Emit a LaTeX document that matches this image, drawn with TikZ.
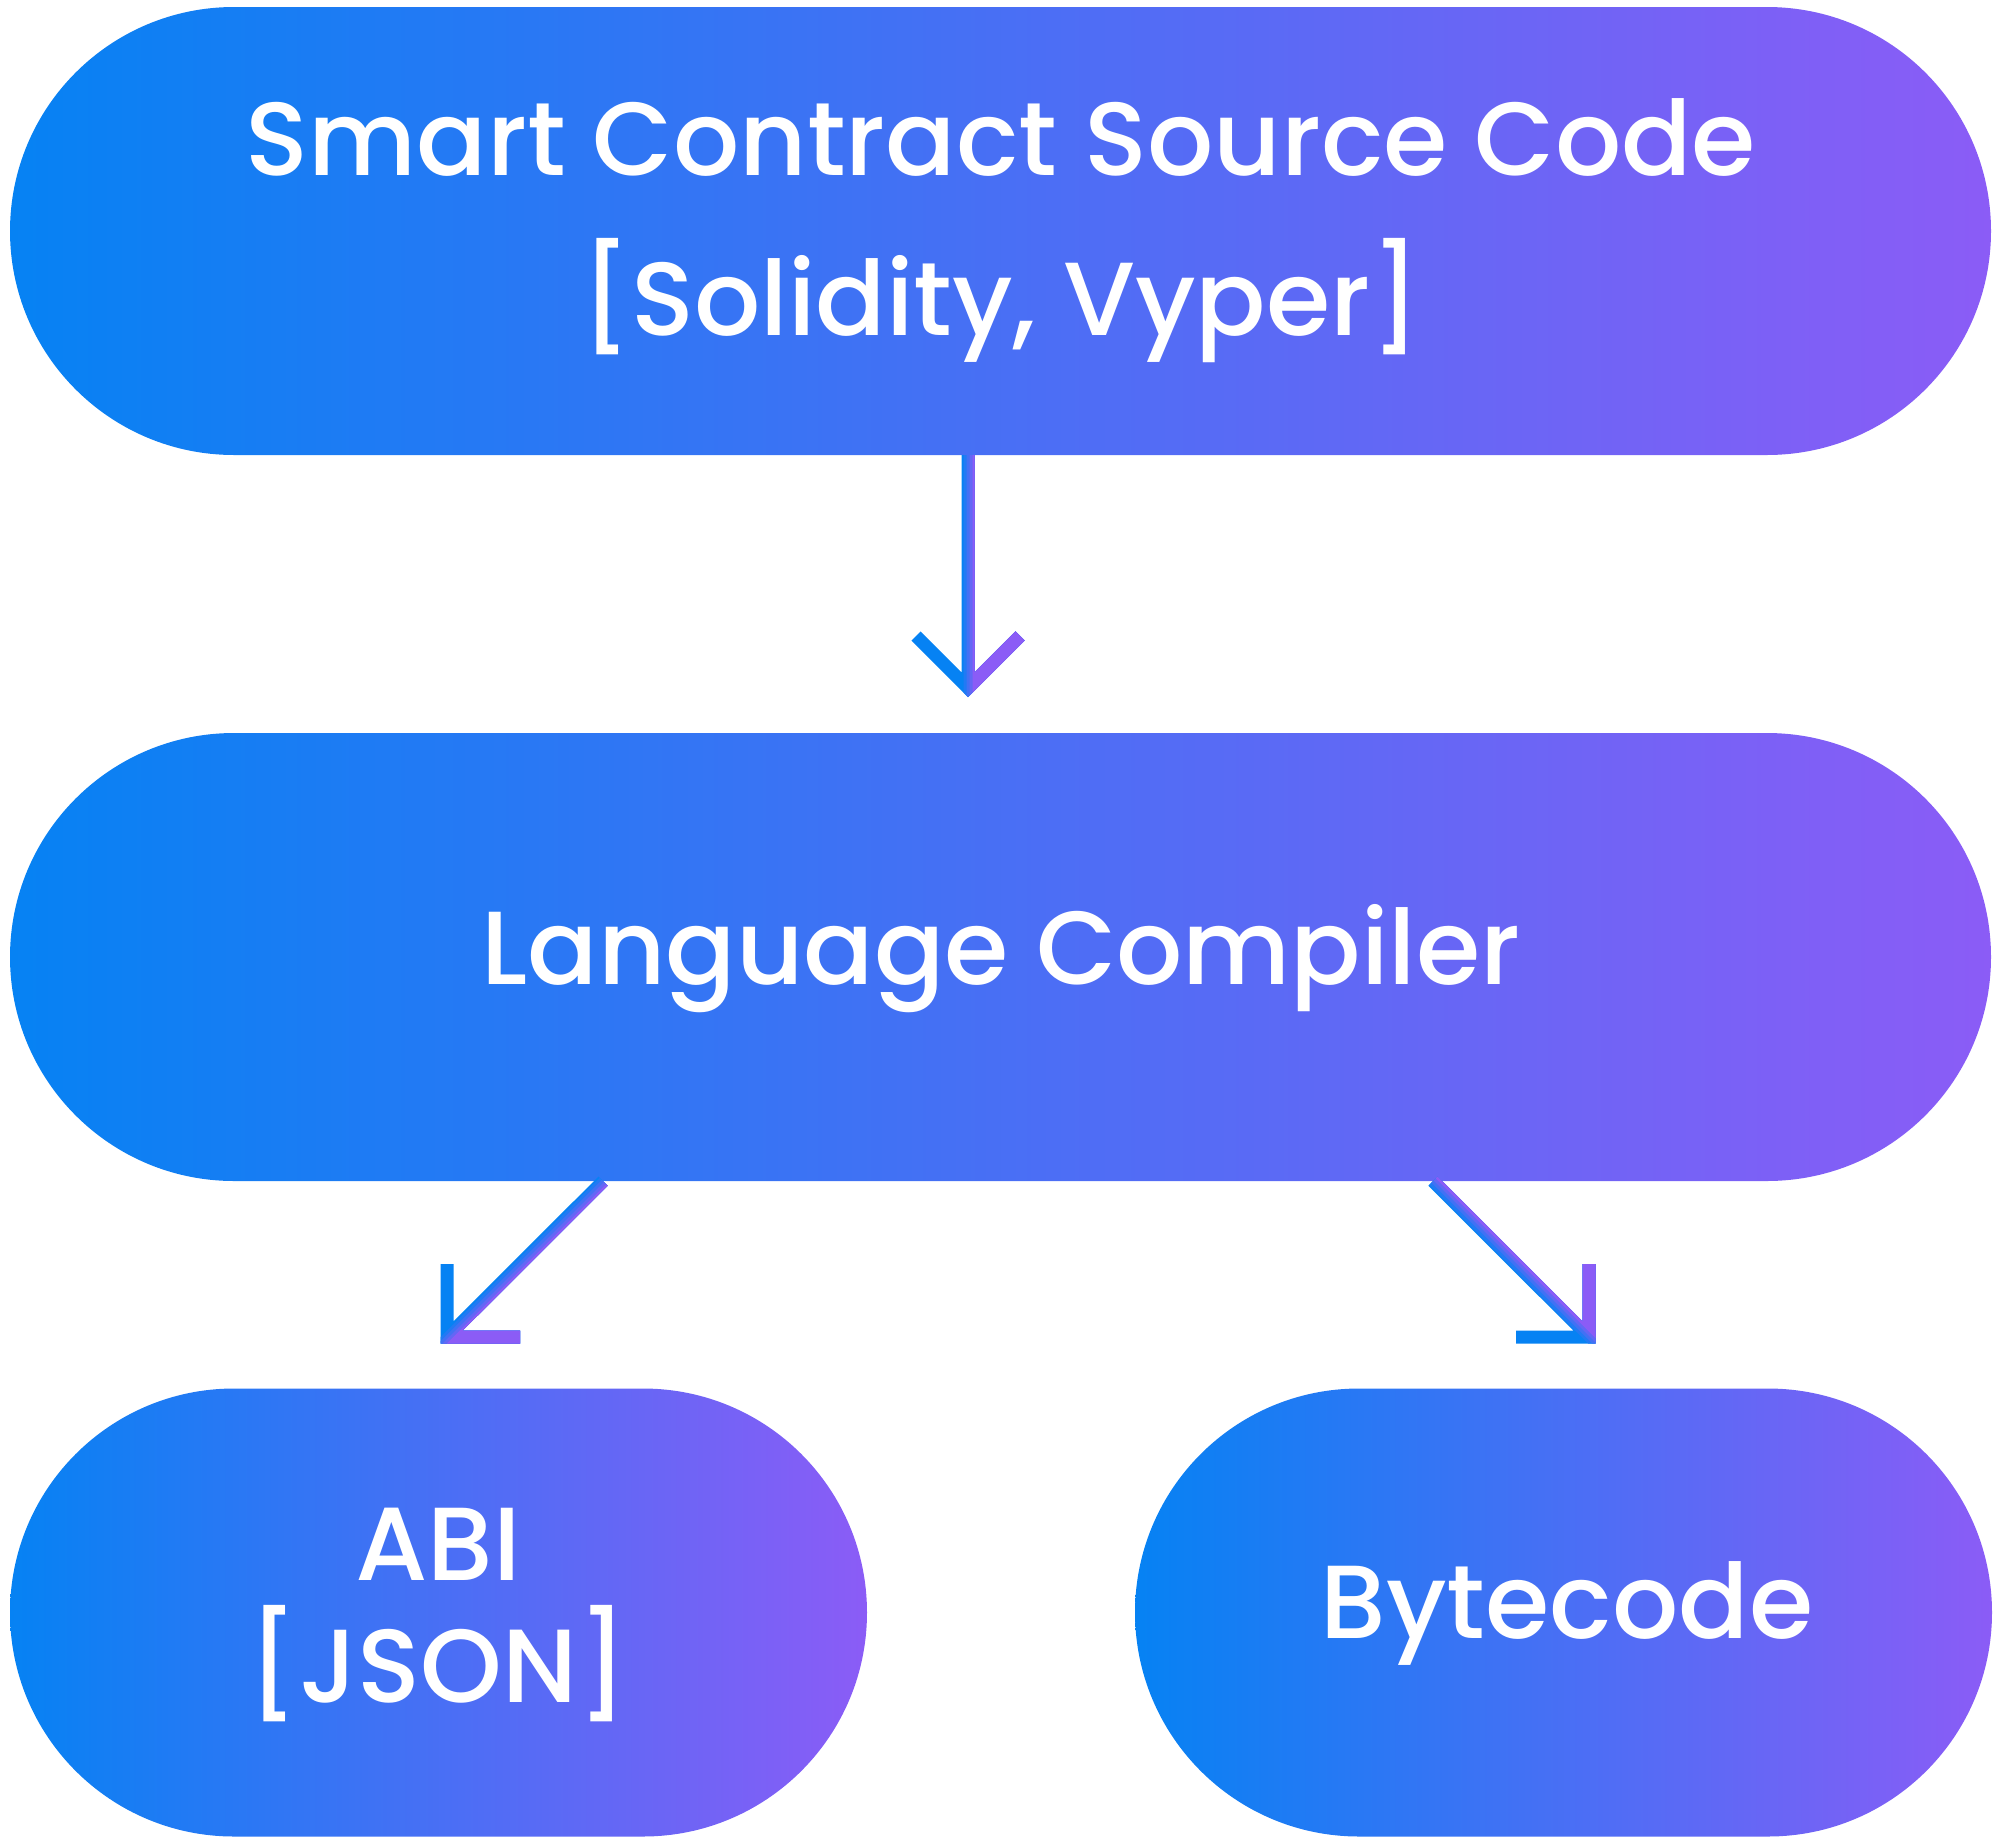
\documentclass[tikz,border=0pt]{standalone}
\usepackage{fontspec}
\newfontfamily\popfont{Poppins}[UprightFont={* Medium}]
\definecolor{cblue}{RGB}{6,130,243}
\definecolor{cpurp}{RGB}{139,92,246}
\begin{document}
\begin{tikzpicture}[x=1pt,y=-1pt,
  box/.style={rectangle, rounded corners=224pt, inner sep=0pt, draw=none,
    left color=cblue, right color=cpurp, minimum height=448pt},
  txt/.style={text=white, font=\popfont\fontsize{104}{110}\selectfont, inner sep=0pt, anchor=base},
  arr/.style={line width=13pt, line cap=butt, line join=miter}]
\useasboundingbox (0,0) rectangle (2000,1845);
% boxes
\node[box, minimum width=1981pt] (top) at (1000.5,231) {};
\node[box, minimum width=1981pt] (mid) at (1000.5,957) {};
\node[box, minimum width=857pt] (abi) at (438.5,1612.5) {};
\node[box, minimum width=857pt] (byte) at (1563.5,1612.5) {};
% texts
\node[txt] (t1) at (1001,175) {Smart Contract Source Code};
\node[txt] (t2) at (1001,335) {[Solidity, Vyper]};
\node[txt] (t3) at (1001,984) {Language Compiler};
\node[txt] (t4) at (438,1580) {ABI};
\node[txt] (t5) at (438,1702) {[JSON]};
\node[txt] (t6) at (1567,1638) {Bytecode};
% arrow coordinates
\coordinate (a1s) at ([xshift=-32.5pt]top.south);
\coordinate (a1e) at (968,688);
\coordinate (a1l) at (916,636);
\coordinate (a1r) at (1020,636);
\coordinate (a2s) at ([xshift=-397.5pt]mid.south);
\coordinate (a2e) at (447,1337);
\coordinate (a2u) at (447,1264);
\coordinate (a2h) at (520,1337);
\coordinate (a3s) at ([xshift=432.5pt]mid.south);
\coordinate (a3e) at (1589,1337);
\coordinate (a3u) at (1589,1264);
\coordinate (a3h) at (1516,1337);
% base (blue) strokes
\draw[arr, cblue] (a1s) -- (a1e) (a1l) -- (a1e) -- (a1r);
\draw[arr, cblue] (a2s) -- (a2e) (a2u) -- (a2e) -- (a2h);
\draw[arr, cblue] (a3s) -- (a3e) (a3u) -- (a3e) -- (a3h);
% gradient bands towards purple
\foreach \d/\p in {-4.5/20,-1.5/45,1.5/70,4.5/100}{
  \begin{scope}
    \clip ({968+\d},400) rectangle (1100,720);
    \draw[arr, cpurp!\p!cblue] (a1s) -- (a1e) (a1l) -- (a1e) -- (a1r);
  \end{scope}
  \pgfmathsetmacro\cc{1784+\d*1.41421}
  \begin{scope}
    \clip ({\cc-1100},1100) -- ({\cc-1400},1400) -- (1000,1400) -- (1000,1100) -- cycle;
    \draw[arr, cpurp!\p!cblue] (a2s) -- (a2e) (a2u) -- (a2e) -- (a2h);
  \end{scope}
  \pgfmathsetmacro\kk{-251-\d*1.41421}
  \begin{scope}
    \clip (1300,{1300+\kk}) -- (1700,{1700+\kk}) -- (1700,1000) -- (1300,1000) -- cycle;
    \draw[arr, cpurp!\p!cblue] (a3s) -- (a3e) (a3u) -- (a3e) -- (a3h);
  \end{scope}
}
\end{tikzpicture}
\end{document}
